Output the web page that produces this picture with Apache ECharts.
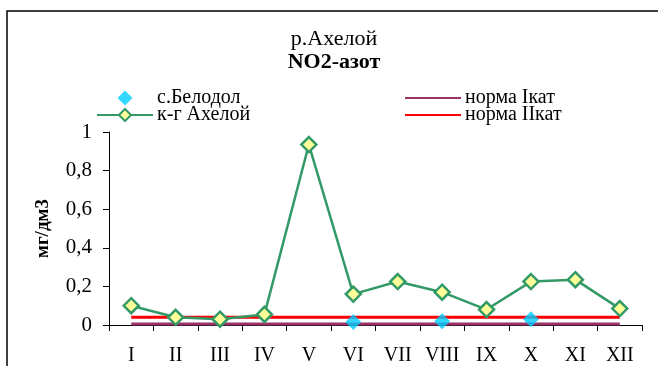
<!DOCTYPE html>
<html>
<head>
<meta charset="utf-8">
<script src="https://cdn.jsdelivr.net/npm/echarts@6/dist/echarts.min.js"></script>
<style>
html,body{margin:0;padding:0;background:#fff;}
#c{width:658px;height:366px;}
</style>
</head>
<body>
<div id="c"></div>
<script>
const categories = ['I','II','III','IV','V','VI','VII','VIII','IX','X','XI','XII'];
const belodol = [null, null, 0.03, null, null, 0.015, null, 0.02, null, 0.03, null, null];
const aheloy = [0.10, 0.04, 0.03, 0.055, 0.935, 0.16, 0.225, 0.17, 0.08, 0.225, 0.235, 0.085];
const normI = [0.005,0.005,0.005,0.005,0.005,0.005,0.005,0.005,0.005,0.005,0.005,0.005];
const normII = [0.04,0.04,0.04,0.04,0.04,0.04,0.04,0.04,0.04,0.04,0.04,0.04];
const yTicks = {min: 0, max: 1, interval: 0.2};
const seriesNames = ['с.Белодол','к-г Ахелой','норма Iкат','норма IIкат'];

const FF = 'Liberation Serif';
const chart = echarts.init(document.getElementById('c'));
chart.setOption({
  animation: false,
  backgroundColor: '#fff',
  textStyle: {fontFamily: FF, color: '#000'},
  title: [
    {text: 'р.Ахелой', left: 329, top: 23, textAlign: 'center',
     textStyle: {fontFamily: FF, fontSize: 22, fontWeight: 'normal', color: '#000'}},
    {text: 'NO2-азот', left: 329, top: 46, textAlign: 'center',
     textStyle: {fontFamily: FF, fontSize: 22, fontWeight: 'bold', color: '#000'}}
  ],
  graphic: [{
    type: 'rect', shape: {x: 7, y: 11, width: 700, height: 400},
    style: {fill: 'none', stroke: '#000', lineWidth: 1.5}, silent: true
  }],
  legend: [
    {data: [{name: seriesNames[0], icon: 'path://M7,0 L14,7 L7,14 L0,7 Z'}, seriesNames[1]],
     orient: 'vertical', left: 96, top: 88, symbolKeepAspect: true,
     padding: 0, itemWidth: 56, itemHeight: 15, itemGap: -3,
     textStyle: {fontFamily: FF, fontSize: 20, color: '#000', padding: [0,0,0,-1]}},
    {data: [{name: seriesNames[2], itemStyle: {opacity: 0}}, {name: seriesNames[3], itemStyle: {opacity: 0}}],
     orient: 'vertical', left: 404, top: 88,
     padding: 0, itemWidth: 56, itemHeight: 15, itemGap: -3,
     textStyle: {fontFamily: FF, fontSize: 20, color: '#000', padding: [0,0,0,-1]}}
  ],
  grid: {left: 109, right: 16, top: 132, bottom: 39, containLabel: false},
  xAxis: {
    type: 'category', data: categories, boundaryGap: true,
    axisLine: {lineStyle: {color: '#000', width: 1}},
    axisTick: {show: true, length: 6, inside: false, alignWithLabel: false, lineStyle: {color: '#000'}},
    axisLabel: {fontFamily: FF, fontSize: 20, color: '#000', margin: 21, interval: 0},
    splitLine: {show: false}
  },
  yAxis: {
    type: 'value', min: yTicks.min, max: yTicks.max, interval: yTicks.interval,
    name: 'мг/дм3', nameLocation: 'middle', nameGap: 56, nameRotate: 90,
    nameTextStyle: {fontFamily: FF, fontSize: 19, fontWeight: 'bold', color: '#000'},
    axisLine: {show: true, lineStyle: {color: '#000', width: 1}},
    axisTick: {show: true, length: 6, lineStyle: {color: '#000'}},
    axisLabel: {fontFamily: FF, fontSize: 21, color: '#000', margin: 17,
      formatter: v => String(Math.round(v*10)/10).replace('.', ',')},
    splitLine: {show: false}
  },
  series: [
    {name: seriesNames[2], type: 'line', data: normI, symbol: 'none', z: 1,
     lineStyle: {color: '#993366', width: 3}, itemStyle: {color: '#993366'}},
    {name: seriesNames[3], type: 'line', data: normII, symbol: 'none', z: 1,
     lineStyle: {color: '#FF0000', width: 3}, itemStyle: {color: '#FF0000'}},
    {name: seriesNames[0], type: 'scatter', data: belodol, symbol: 'diamond', symbolSize: 16, z: 3,
     itemStyle: {color: '#00CCFF'}},
    {name: seriesNames[1], type: 'line', data: aheloy, symbol: 'diamond', symbolSize: 15, z: 4,
     showSymbol: true,
     lineStyle: {color: '#339966', width: 2.5},
     itemStyle: {color: '#FFFF99', borderColor: '#339966', borderWidth: 2.5}}
  ]
});
</script>
</body>
</html>
